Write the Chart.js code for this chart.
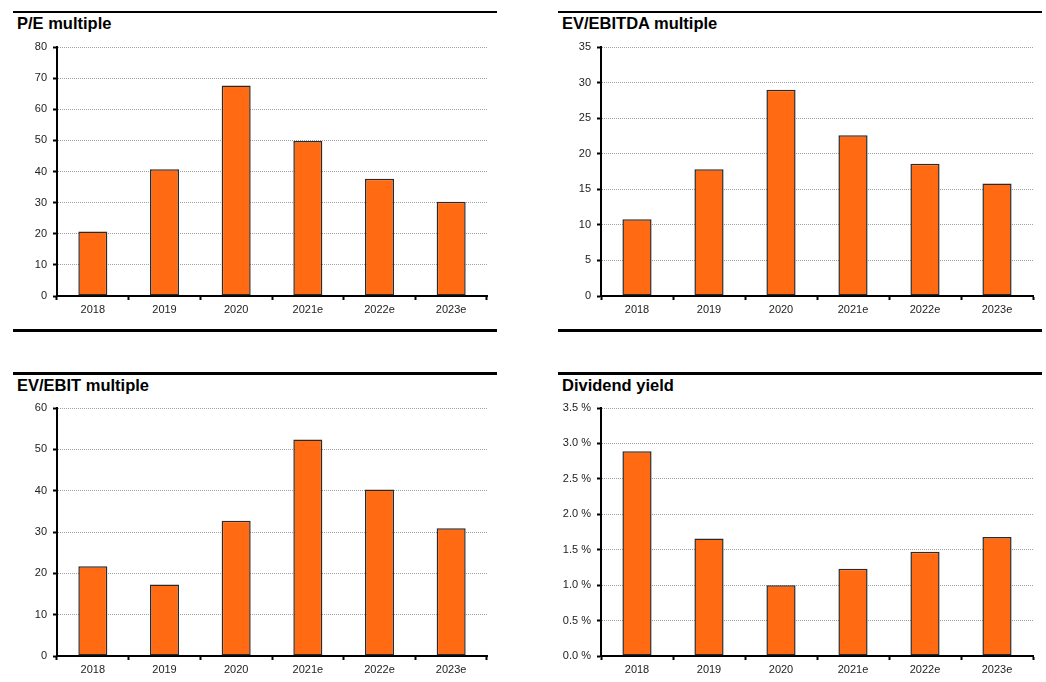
<!DOCTYPE html>
<html>
<head>
<meta charset="utf-8">
<script src="https://cdn.jsdelivr.net/npm/chart.js@4.4.1/dist/chart.umd.min.js"></script>
<style>
  body { margin: 0; background: #fff; width: 1046px; height: 682px; position: relative; overflow: hidden;
         font-family: "Liberation Sans", Arial, sans-serif; }
  .rule { position: absolute; background: #000; }
  .title { position: absolute; font-weight: bold; font-size: 16.5px; line-height: 16px; color: #000; white-space: nowrap; }
  canvas { position: absolute; }
</style>
</head>
<body>
<div class="rule" style="left:13px;top:11px;width:484px;height:2px"></div>
<div class="rule" style="left:13px;top:329px;width:484px;height:3px"></div>
<div class="rule" style="left:558px;top:11px;width:484px;height:2px"></div>
<div class="rule" style="left:558px;top:329px;width:484px;height:3px"></div>
<div class="rule" style="left:13px;top:372px;width:484px;height:3px"></div>
<div class="rule" style="left:558px;top:372px;width:484px;height:3px"></div>

<div class="title" style="left:17px;top:15px">P/E multiple</div>
<div class="title" style="left:562px;top:15px">EV/EBITDA multiple</div>
<div class="title" style="left:17px;top:377px">EV/EBIT multiple</div>
<div class="title" style="left:562px;top:377px">Dividend yield</div>

<canvas id="pe"></canvas>
<canvas id="evEbitda"></canvas>
<canvas id="evEbit"></canvas>
<canvas id="divYield"></canvas>

<script>
// Fiscal years shown on every panel
const years = ['2018', '2019', '2020', '2021e', '2022e', '2023e'];

// Valuation series
const peMultiple       = [20.7, 40.7, 67.6, 49.8, 37.7, 30.3];
const evEbitdaMultiple = [10.8, 17.8, 29.0, 22.6, 18.6, 15.8];
const evEbitMultiple   = [21.7, 17.3, 32.7, 52.4, 40.3, 30.9];
const dividendYield    = [2.89, 1.66, 1.00, 1.23, 1.47, 1.68]; // percent

// Value-axis ranges: [max, step]
const peAxis       = [80, 10];
const evEbitdaAxis = [35, 5];
const evEbitAxis   = [60, 10];
const yieldAxis    = [3.5, 0.5];

const BAR_FILL = '#ff6a12';
const BAR_EDGE = '#2a2a2a';
const FONT = { family: '"Liberation Sans", Arial, sans-serif', size: 11 };

// Draw one bar panel; box gives the canvas placement and plot area edges
function drawPanel(id, values, axis, box, fmt) {
  const cv = document.getElementById(id);
  const topPad = 20, bottomH = 26;
  const cTop = box.plotTop - topPad;
  const cH = box.plotBottom + bottomH - cTop;
  cv.width = box.width; cv.height = cH;
  cv.style.left = box.left + 'px'; cv.style.top = cTop + 'px';
  cv.style.width = box.width + 'px'; cv.style.height = cH + 'px';
  const yWidth = box.plotLeft - box.left;
  const rightPad = box.left + box.width - box.plotRight;

  new Chart(cv, {
    type: 'bar',
    data: {
      labels: years,
      datasets: [{
        data: values,
        backgroundColor: BAR_FILL,
        borderColor: BAR_EDGE,
        borderWidth: 1.5,
        borderSkipped: false,
        barPercentage: 0.405,
        categoryPercentage: 1
      }]
    },
    options: {
      responsive: false,
      animation: false,
      devicePixelRatio: 1,
      layout: { padding: { top: topPad, right: rightPad, left: 0, bottom: 0 } },
      plugins: { legend: { display: false }, tooltip: { enabled: false } },
      scales: {
        x: {
          offset: true,
          grid: { display: true, drawOnChartArea: false, drawTicks: true, tickLength: 4,
                  color: '#000', tickColor: '#000', tickWidth: 2, offset: true },
          border: { display: true, color: '#000', width: 2 },
          ticks: { color: '#222', font: FONT, padding: 3, maxRotation: 0, autoSkip: false },
          afterFit: s => { s.height = bottomH; }
        },
        y: {
          min: 0, max: axis[0],
          grid: { color: '#a0a0a0', lineWidth: 1, tickLength: 4, tickColor: '#000', tickWidth: 2 },
          border: { display: true, color: '#000', width: 2, dash: [1, 1] },
          ticks: { stepSize: axis[1], color: '#222', font: FONT, padding: 6,
                   callback: v => fmt(v) },
          afterFit: s => { s.width = yWidth; }
        }
      }
    }
  });
}

const plain = v => String(v);
const pct = v => v.toFixed(1) + ' %';

drawPanel('pe',       peMultiple,       peAxis,       { left: 0,   width: 500, plotLeft: 57,  plotRight: 487,  plotTop: 47,  plotBottom: 296 }, plain);
drawPanel('evEbitda', evEbitdaMultiple, evEbitdaAxis, { left: 526, width: 520, plotLeft: 601, plotRight: 1033, plotTop: 47,  plotBottom: 296 }, plain);
drawPanel('evEbit',   evEbitMultiple,   evEbitAxis,   { left: 0,   width: 500, plotLeft: 57,  plotRight: 487,  plotTop: 408, plotBottom: 656 }, plain);
drawPanel('divYield', dividendYield,    yieldAxis,    { left: 526, width: 520, plotLeft: 601, plotRight: 1033, plotTop: 408, plotBottom: 656 }, pct);
</script>
</body>
</html>
